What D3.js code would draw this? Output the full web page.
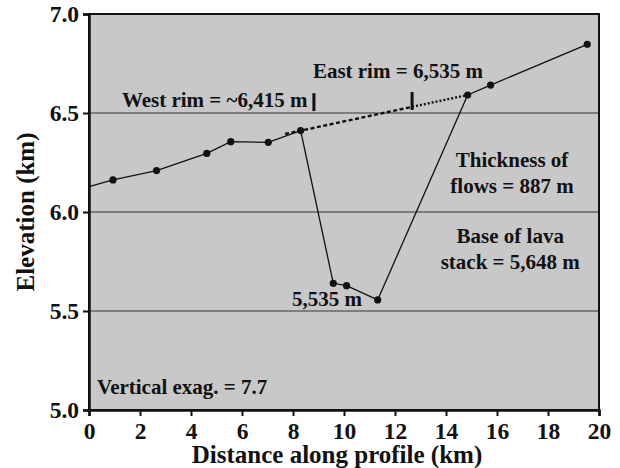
<!DOCTYPE html>
<html>
<head>
<meta charset="utf-8">
<script src="https://cdn.jsdelivr.net/npm/d3@7"></script>
<style>
  body { margin: 0; background: #fff; }
  text { font-family: "Liberation Serif", "Times New Roman", serif; font-weight: bold; fill: #111; }
</style>
</head>
<body>
<script>
// profile points (km along profile, elevation km)
var dist = [0, 0.94, 2.65, 4.62, 5.56, 7.03, 8.30, 9.58, 10.10, 11.32, 14.85, 15.75, 19.54]
var elev = [6.128, 6.162, 6.209, 6.296, 6.355, 6.352, 6.411, 5.640, 5.628, 5.556, 6.591, 6.641, 6.847]
// projected surface between the rims
var rimDist = [7.69, 12.67, 14.85]
var rimElev = [6.394, 6.531, 6.591]
// rim markers: [x, bottom, top]
var rimTicks = [[8.82, 6.51, 6.60], [12.67, 6.515, 6.606]]

var xTicks = [0, 2, 4, 6, 8, 10, 12, 14, 16, 18, 20]
var yTicks = [5.0, 5.5, 6.0, 6.5, 7.0]
var gridLines = [5.5, 6.0, 6.5]

// annotations [x km, y km, anchor, text]
var notes = [
    [1.29, 6.530, "start", "West rim = ~6,415 m"],
    [8.78, 6.677, "start", "East rim = 6,535 m"],
    [7.96, 5.525, "start", "5,535 m"],
    [0.31, 5.081, "start", "Vertical exag. = 7.7"],
    [16.59, 6.227, "middle", "Thickness of"],
    [16.59, 6.096, "middle", "flows = 887 m"],
    [16.52, 5.843, "middle", "Base of lava"],
    [16.52, 5.712, "middle", "stack = 5,648 m"]
]

const width = 620
const height = 468

var svg = d3.select("body").append("svg").attr("width", width).attr("height", height)

var xScale = d3.scaleLinear().domain([0, 20]).range([89, 599])
var yScale = d3.scaleLinear().domain([5, 7]).range([410, 14])

// plot background
svg.append("rect")
    .attr("x", xScale(0)).attr("y", yScale(7))
    .attr("width", xScale(20) - xScale(0)).attr("height", yScale(5) - yScale(7))
    .attr("fill", "#c8c8c8")

svg.selectAll(".grid").data(gridLines).enter().append("line")
    .attr("x1", xScale(0)).attr("x2", xScale(20))
    .attr("y1", (d) => yScale(d)).attr("y2", (d) => yScale(d))
    .attr("stroke", "#333").attr("stroke-width", 1.2)

var line = d3.line().x((d) => xScale(d[0])).y((d) => yScale(d[1]))
var pts = dist.map((d, i) => [d, elev[i]])
var rimPts = rimDist.map((d, i) => [d, rimElev[i]])

svg.append("path").datum(rimPts.slice(0, 2))
    .attr("fill", "none").attr("stroke", "#111").attr("stroke-width", 2.4)
    .attr("stroke-dasharray", "4,2.5").attr("d", line)
svg.append("path").datum(rimPts.slice(1))
    .attr("fill", "none").attr("stroke", "#111").attr("stroke-width", 2.4)
    .attr("stroke-dasharray", "2,2").attr("d", line)

svg.append("path").datum(pts)
    .attr("fill", "none").attr("stroke", "#111").attr("stroke-width", 1.3).attr("d", line)

svg.selectAll(".pt").data(pts.slice(1)).enter().append("circle")
    .attr("cx", (d) => xScale(d[0])).attr("cy", (d) => yScale(d[1]))
    .attr("r", 3.6).attr("fill", "#111")

svg.selectAll(".rimtick").data(rimTicks).enter().append("line")
    .attr("x1", (d) => xScale(d[0])).attr("x2", (d) => xScale(d[0]))
    .attr("y1", (d) => yScale(d[1])).attr("y2", (d) => yScale(d[2]))
    .attr("stroke", "#111").attr("stroke-width", 3)

svg.selectAll(".note").data(notes).enter().append("text")
    .attr("x", (d) => xScale(d[0])).attr("y", (d) => yScale(d[1]))
    .attr("text-anchor", (d) => d[2])
    .style("font-size", "21px")
    .text((d) => d[3])

// frame
svg.append("rect")
    .attr("x", xScale(0)).attr("y", yScale(7))
    .attr("width", xScale(20) - xScale(0)).attr("height", yScale(5) - yScale(7))
    .attr("fill", "none").attr("stroke", "#111").attr("stroke-width", 2)

var xAxis = svg.append("g").attr("transform", "translate(0," + yScale(5) + ")")
    .call(d3.axisBottom(xScale).tickValues(xTicks).tickSize(6).tickPadding(6).tickFormat(d3.format("d")))
var yAxis = svg.append("g").attr("transform", "translate(" + xScale(0) + ",0)")
    .call(d3.axisLeft(yScale).tickValues(yTicks).tickSize(6).tickPadding(4).tickFormat(d3.format(".1f")))

svg.selectAll(".domain").attr("stroke", "#111").attr("stroke-width", 2.5)
svg.selectAll(".tick line").attr("stroke", "#111").attr("stroke-width", 2)
svg.selectAll(".tick text").attr("fill", "#111")
    .style("font-family", "'Liberation Serif', serif").style("font-weight", "bold").style("font-size", "23.5px")

svg.append("text").attr("x", 337).attr("y", 463).attr("text-anchor", "middle")
    .style("font-size", "25px").text("Distance along profile (km)")
svg.append("text").attr("transform", "translate(34,212) rotate(-90)").attr("text-anchor", "middle")
    .style("font-size", "25px").text("Elevation (km)")
</script>
</body>
</html>
